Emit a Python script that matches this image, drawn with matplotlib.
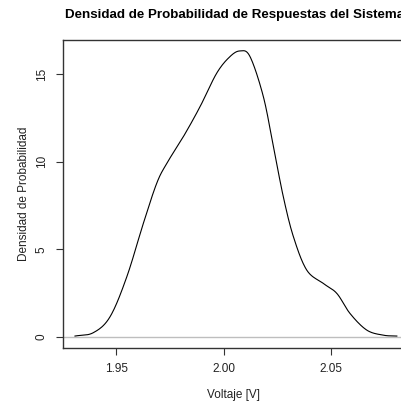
import matplotlib
matplotlib.use("Agg")
import matplotlib.pyplot as plt
import numpy as np

plt.rcParams.update({
	"font.family": ["Liberation Sans", "DejaVu Sans"],
})

# density curve (voltage, density)
voltaje = [1.9309, 1.9394, 1.9472, 1.9550, 1.9627, 1.9689, 1.9736, 1.9813, 1.9891,
           1.9968, 2.0030, 2.0077, 2.0123, 2.0185, 2.0232, 2.0278, 2.0325, 2.0387,
           2.0464, 2.0527, 2.0588, 2.0666, 2.0743, 2.0806]
densidad = [0.06, 0.25, 1.16, 3.44, 6.49, 8.77, 9.91, 11.43, 13.15,
            15.05, 16.00, 16.32, 16.00, 13.72, 10.86, 8.00, 5.72, 3.82,
            3.06, 2.49, 1.35, 0.40, 0.11, 0.06]

xTicks = [1.95, 2.00, 2.05]
xTickLabels = ["1.95", "2.00", "2.05"]
yTicks = [0, 5, 10, 15]
yTickLabels = ["0", "5", "10", "15"]


def catmullRom(x, y, n=20):
	# smooth curve through the read points
	x = np.asarray(x)
	y = np.asarray(y)
	px = np.concatenate([[2 * x[0] - x[1]], x, [2 * x[-1] - x[-2]]])
	py = np.concatenate([[2 * y[0] - y[1]], y, [2 * y[-1] - y[-2]]])
	outX, outY = [], []
	t = np.linspace(0, 1, n, endpoint=False)
	for i in range(1, len(px) - 2):
		for arr, out in ((px, outX), (py, outY)):
			p0, p1, p2, p3 = arr[i - 1], arr[i], arr[i + 1], arr[i + 2]
			out.extend(0.5 * (2 * p1 + (-p0 + p2) * t + (2 * p0 - 5 * p1 + 4 * p2 - p3) * t ** 2
			                  + (-p0 + 3 * p1 - 3 * p2 + p3) * t ** 3))
	outX.append(x[-1])
	outY.append(y[-1])
	return np.array(outX), np.array(outY)


fig = plt.figure(figsize=(4.01, 4.03), dpi=100)
ax = fig.add_axes([0.157, 0.137, 0.853, 0.764])

xf, yf = catmullRom(voltaje, densidad)

ax.axhline(0, color="#BEBEBE", lw=1, zorder=1)
ax.plot(xf, yf, color="black", lw=0.8, zorder=2)

ax.set_xlim(1.9253, 2.0844)
ax.set_ylim(-0.61, 16.95)
ax.set_xticks(xTicks, xTickLabels)
ax.set_yticks(yTicks, yTickLabels)
for lab in ax.get_yticklabels():
	lab.set_rotation(90)
	lab.set_va("center")
ax.tick_params(axis="both", direction="out", length=5, width=0.8, colors="#333333",
               labelsize=8.5, labelcolor="#222222")
ax.tick_params(axis="x", pad=6)
ax.tick_params(axis="y", pad=6)
for s in ax.spines.values():
	s.set_color("#333333")
	s.set_linewidth(1)

ax.set_xlabel("Voltaje [V]", fontsize=8.5, color="#222222", labelpad=10)
ax.set_ylabel("Densidad de Probabilidad", fontsize=8.5, color="#222222", labelpad=4)
fig.text(0.585, 0.962, "Densidad de Probabilidad de Respuestas del Sistema",
         ha="center", va="center", fontsize=9.6, fontweight="bold")

fig.savefig("out.png", dpi=100)
